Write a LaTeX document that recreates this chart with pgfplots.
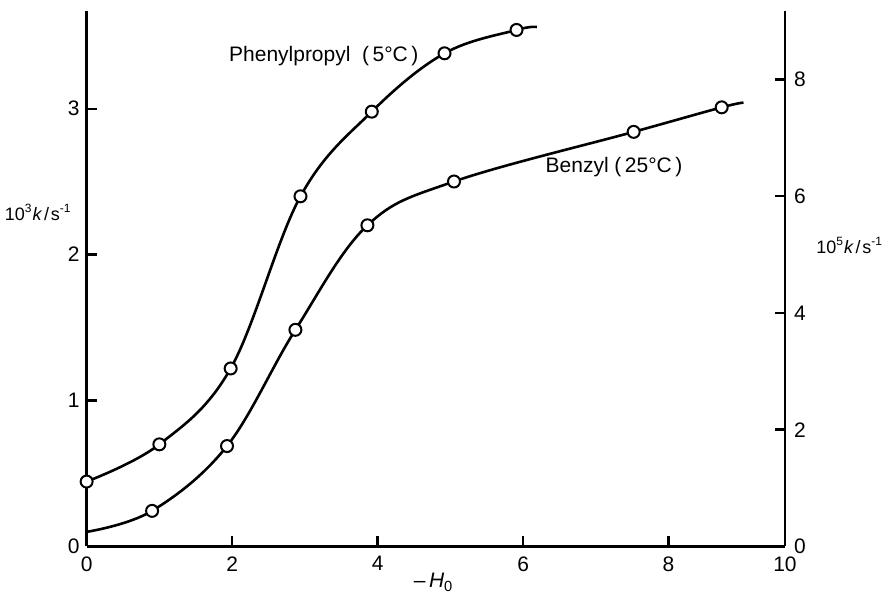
\documentclass[border=0pt]{standalone}
\usepackage{pgfplots}
\pgfplotsset{compat=1.18}
\usepackage{fontspec}
\setmainfont{Liberation Sans}

% phenylpropyl, left axis (10^3 k / s^-1)
\pgfplotstableread{
x y
0    0.445
1.00 0.70
1.98 1.22
2.94 2.40
3.92 2.98
4.92 3.38
5.91 3.54
6.19 3.56
}\phenline
\pgfplotstableread{
x y
0    0.445
1.00 0.70
1.98 1.22
2.94 2.40
3.92 2.98
4.92 3.38
5.91 3.54
}\phenpts
% benzyl, right axis (10^5 k / s^-1)
\pgfplotstableread{
x y
0    0.25
0.90 0.61
1.93 1.72
2.87 3.71
3.86 5.50
5.05 6.25
7.52 7.10
8.73 7.52
9.03 7.60
}\benzline
\pgfplotstableread{
x y
0.90 0.61
1.93 1.72
2.87 3.71
3.86 5.50
5.05 6.25
7.52 7.10
8.73 7.52
}\benzpts

\tikzset{ylab/.style={inner sep=0pt, font=\fontsize{9}{10}\selectfont}}

\begin{document}
\begin{tikzpicture}[font=\fontsize{10.5}{12}\selectfont]
\pgfplotsset{
  every axis/.append style={
    scale only axis, width=349.5pt, height=268pt,
    xmin=0, xmax=9.6,
    tick align=inside, major tick length=5pt,
    axis line style={-, line width=1.3pt},
    every tick/.style={line width=1.2pt, black},
    /pgf/number format/assume math mode=true,
    clip=false,
  },
  pts/.style={only marks, mark=*, mark size=3pt, mark options={fill=white, draw=black, line width=1pt}},
  crv/.style={line width=1.3pt, smooth, tension=0.6, no marks},
}
\begin{axis}[
  axis x line*=bottom, axis y line*=left,
  ymin=0, ymax=3.67,
  xtick={0,2,4,6,8,9.6}, xticklabels={0,2,4,6,8,10},
  ytick={0,1,2,3},
  xticklabel style={yshift=-1.5pt},
]
\addplot[crv] table {\phenline};
\addplot[pts] table {\phenpts};
\node[ylab, anchor=east] at (axis cs:0,2.29) [xshift=-7.3pt] {10\textsuperscript{3}\textit{k}\hspace{0.1em}/\hspace{0.1em}s\textsuperscript{-1}};
\node at (axis cs:3.26,3.36) {Phenylpropyl\ \ (\,5°C\,)};
\node at (axis cs:7.25,2.60) {Benzyl (\,25°C\,)};
\node at (axis cs:4.77,0) [yshift=-18pt] {\textendash\,\textit{H}\textsubscript{0}};
\end{axis}
\begin{axis}[
  axis x line=none, axis y line*=right,
  ymin=0, ymax=9.17,
  xtick=\empty,
  ytick={0,2,4,6,8},
  yticklabel style={xshift=1pt},
]
\addplot[crv] table {\benzline};
\addplot[pts] table {\benzpts};
\node[ylab, anchor=west] at (axis cs:9.6,5.16) [xshift=15.5pt] {10\textsuperscript{5}\textit{k}\hspace{0.1em}/\hspace{0.1em}s\textsuperscript{-1}};
\end{axis}
\path (-43.35pt,-20pt) rectangle (398.15pt,273.5pt);
\end{tikzpicture}
\end{document}
